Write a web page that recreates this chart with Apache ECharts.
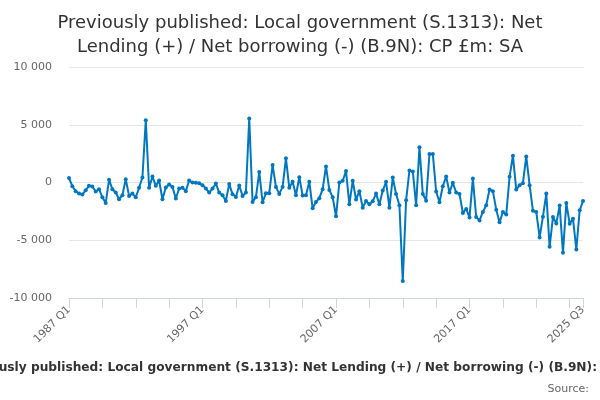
<!DOCTYPE html>
<html>
<head>
<meta charset="utf-8">
<script src="https://cdn.jsdelivr.net/npm/echarts@6/dist/echarts.min.js"></script>
<style>
html,body{margin:0;padding:0;background:#fff;}
#chart{width:600px;height:400px;}
</style>
</head>
<body>
<div id="chart"></div>
<script>
var titleText = 'Previously published: Local government (S.1313): Net\nLending (+) / Net borrowing (-) (B.9N): CP £m: SA';
var captionText = 'Previously published: Local government (S.1313): Net Lending (+) / Net borrowing (-) (B.9N): CP £m: SA';
var captionVisibleEnd = 'Previously published: Local government (S.1313): Net Lending (+) / Net borrowing (-) (B.9N):';
var sourceText = 'Source:';

var startYear = 1987, endYear = 2025, endQuarter = 3;
var categories = [];
for (var y = startYear; y <= endYear; y++) {
  for (var q = 1; q <= 4; q++) {
    if (y === endYear && q > endQuarter) break;
    categories.push(y + ' Q' + q);
  }
}

var values = [
  400, -320, -750, -960, -1040, -670, -290, -350, -780, -580,
  -1280, -1770, 230, -580, -870, -1450, -1100, 290, -1160, -960,
  -1280, -460, 430, 5390, -460, 520, -290, 170, -1450, -430,
  -170, -380, -1390, -520, -460, -750, 170, 0, -30, -60,
  -230, -520, -870, -520, -90, -870, -1100, -1600, -120, -1020,
  -1250, -260, -1160, -870, 5540, -1680, -1280, 900, -1710, -930,
  -930, 1510, -380, -990, -380, 2090, -460, 60, -1100, 460,
  -1130, -1100, 60, -2230, -1680, -1360, -580, 1390, -640, -1280,
  -2930, 0, 150, 990, -1890, 150, -1480, -750, -2180, -1600,
  -1890, -1620, -960, -1890, -700, 60, -2180, 430, -990, -1970,
  -8530, -1540, 1040, 960, -1970, 3050, -990, -1570, 2470, 2470,
  -780, -1710, -320, 520, -870, -30, -870, -990, -2640, -2290,
  -3020, 350, -2990, -3280, -2550, -1970, -610, -750, -2350, -3450,
  -2550, -2780, 490, 2320, -610, -230, -60, 2260, -230, -2440,
  -2550, -4760, -2960, -960, -5570, -2990, -3540, -2000, -6090, -1770,
  -3570, -3130, -5800, -2410, -1600
];

var yMin = -10000, yMax = 10000, yStep = 5000;
var tickEvery = 10, labelEvery = 40;

function fmt(v) {
  var s = Math.abs(v).toString().replace(/\B(?=(\d{3})+(?!\d))/g, ' ');
  return (v < 0 ? '-' : '') + s;
}

var captionFont = 'bold 12.2px "DejaVu Sans"';
var mctx = document.createElement('canvas').getContext('2d');
mctx.font = captionFont;
var captionX = 597 - mctx.measureText(captionVisibleEnd).width;

var lastIdx = categories.length - 1;
var chart = echarts.init(document.getElementById('chart'), null, {renderer: 'canvas'});
chart.setOption({
  animation: false,
  textStyle: {fontFamily: '"DejaVu Sans", sans-serif'},
  title: {
    text: titleText,
    left: 'center',
    top: 6,
    textStyle: {fontSize: 18, fontWeight: 'normal', color: '#333333', lineHeight: 24, fontFamily: '"DejaVu Sans", sans-serif'}
  },
  grid: {left: 69, right: 17, top: 67, bottom: 102, containLabel: false},
  xAxis: {
    type: 'category',
    data: categories,
    boundaryGap: false,
    axisLine: {show: true, onZero: false, lineStyle: {color: '#ccd6eb', width: 1}},
    axisTick: {
      show: true, length: 10, lineStyle: {color: '#ccd6eb'},
      interval: function (i) { return i % tickEvery === 0 || i === lastIdx; }
    },
    axisLabel: {
      rotate: 45, color: '#666666', fontSize: 11, margin: 10,
      interval: function (i) { return i % labelEvery === 0 || i === lastIdx; }
    },
    splitLine: {show: false}
  },
  yAxis: {
    type: 'value',
    min: yMin, max: yMax, interval: yStep,
    axisLine: {show: false},
    axisTick: {show: false},
    axisLabel: {color: '#666666', fontSize: 11, margin: 17, formatter: fmt},
    splitLine: {lineStyle: {color: '#e6e6e6', width: 1}}
  },
  series: [{
    type: 'line',
    data: values,
    symbol: 'circle',
    symbolSize: 4,
    showAllSymbol: true,
    lineStyle: {color: '#0077c0', width: 2},
    itemStyle: {color: '#0077c0'}
  }],
  graphic: [
    {type: 'text', x: captionX, y: 368, style: {text: captionText, font: captionFont, fill: '#333333', textAlign: 'left', textVerticalAlign: 'middle'}},
    {type: 'text', x: 589, y: 389, style: {text: sourceText, font: '11px "DejaVu Sans"', fill: '#666666', textAlign: 'right', textVerticalAlign: 'middle'}}
  ]
});
</script>
</body>
</html>
